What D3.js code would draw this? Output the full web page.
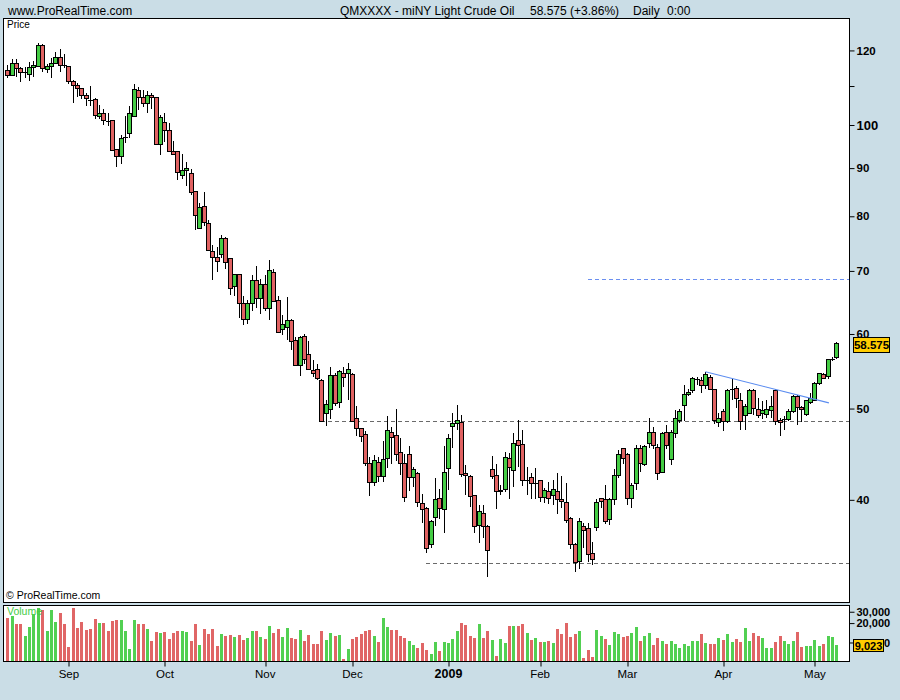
<!DOCTYPE html>
<html><head><meta charset="utf-8">
<script src="https://cdn.jsdelivr.net/npm/d3@7"></script>
<style>
html,body{margin:0;padding:0;background:#cadde6;}
svg{display:block;}
text{font-family:"Liberation Sans",Arial,sans-serif;}
</style></head><body>
<svg id="c" width="900" height="700"></svg>
<script>
// ---------- DATA ----------
const open = [114.3,112.9,116.3,114.9,113.7,113.2,115.2,115.5,121.5,114.6,
115.5,116.3,118.0,115.8,115.5,111.3,110.2,109.4,107.5,106.3,
106.5,102.2,102.9,101.0,101.2,94.2,92.6,96.9,97.9,102.2,
108.9,107.0,105.5,107.5,107.0,95.4,100.7,98.7,93.8,93.8,
88.4,89.5,88.9,85.0,77.7,82.0,78.6,73.4,72.3,72.9,
75.8,72.2,67.4,69.4,64.7,62.2,64.7,68.3,65.4,67.7,
63.9,69.8,65.1,60.6,61.0,62.0,59.1,55.6,59.7,57.1,
54.9,55.0,53.6,49.4,49.9,54.2,50.8,54.5,54.5,54.4,
48.8,47.6,46.9,43.7,41.7,43.8,42.3,44.3,47.1,46.8,
44.9,43.7,44.7,42.2,42.7,39.6,39.2,35.9,38.3,40.1,
39.1,43.2,47.9,48.2,48.3,42.7,42.4,40.4,37.6,38.7,
37.5,43.1,42.5,40.8,41.0,44.2,43.0,46.2,45.8,41.9,
42.2,41.6,41.9,40.2,40.8,40.4,40.8,40.0,39.7,38.2,
35.9,34.4,37.5,37.3,35.1,37.4,40.1,40.0,38.1,40.0,
42.5,45.3,44.7,40.1,41.6,45.4,43.6,45.9,47.2,45.5,
42.8,47.2,44.1,47.0,48.6,50.4,51.8,52.3,53.7,53.6,
52.9,54.0,52.4,48.3,49.7,48.5,52.3,52.5,51.0,49.2,
49.4,52.3,49.9,49.4,49.3,49.8,52.3,48.6,48.8,48.7,
49.7,51.5,50.1,49.3,50.8,51.0,53.2,54.4,54.1,56.3,
56.6];
const high = [115.9,117.4,117.4,115.3,115.3,116.6,117.0,122.1,121.9,116.1,
117.7,119.5,120.4,119.0,115.6,111.7,110.7,109.5,108.1,109.9,
106.7,104.9,103.9,102.9,101.3,94.2,97.5,102.2,104.8,110.6,
109.7,108.9,108.6,108.1,107.1,102.4,102.9,100.4,96.1,93.9,
93.1,91.3,89.7,85.1,82.6,84.8,79.3,74.6,74.3,76.4,
76.0,72.3,69.5,69.5,65.8,65.2,69.3,70.8,68.6,69.3,
71.9,70.4,65.8,62.8,65.6,62.3,59.6,59.7,60.0,59.0,
56.3,55.8,53.7,51.1,55.3,54.5,55.0,55.3,55.9,54.5,
50.3,47.7,47.3,44.4,44.6,44.4,46.2,49.1,47.8,50.0,
46.5,44.7,45.6,43.3,42.8,40.6,39.3,38.1,42.2,41.1,
45.6,47.0,49.4,50.4,49.2,43.6,42.5,40.5,39.5,39.5,
37.6,44.5,43.7,41.5,45.0,44.8,47.1,48.6,47.4,43.3,
42.7,43.2,42.0,41.2,41.8,42.0,42.7,42.4,41.7,38.4,
36.0,38.3,37.8,37.8,36.1,40.1,40.2,41.5,40.2,43.1,
45.2,45.4,44.8,41.7,45.7,45.7,45.7,48.8,47.8,45.9,
47.2,48.0,47.5,49.8,49.9,52.9,52.4,54.0,54.0,54.0,
54.7,54.3,52.5,49.4,49.9,52.4,53.8,52.8,51.9,50.6,
52.4,52.4,51.3,50.9,51.0,51.5,52.4,48.8,49.1,49.9,
51.7,51.7,50.3,51.1,51.9,53.3,54.6,54.5,56.5,56.7,
58.9];
const low = [112.3,112.7,112.5,111.2,112.1,111.4,112.5,115.2,113.8,113.6,
112.3,116.0,113.9,114.9,110.5,105.4,107.2,106.5,104.8,104.8,
101.6,101.4,100.0,99.7,93.8,90.3,91.0,95.8,96.9,102.0,
103.8,104.6,103.1,104.0,95.3,93.0,95.9,93.7,93.0,87.5,
87.6,86.1,84.2,77.4,77.5,78.1,73.5,68.5,69.9,72.2,
70.3,66.0,65.9,62.4,61.3,61.5,63.4,63.9,63.0,63.4,
62.1,64.9,60.1,59.8,59.1,57.7,55.5,54.2,55.8,54.9,
54.0,53.6,48.4,47.9,48.7,50.3,50.1,52.7,51.1,48.4,
46.8,46.1,43.4,40.4,41.4,41.8,41.8,43.2,43.7,44.0,
42.5,39.8,40.9,41.3,39.3,37.8,35.1,35.6,37.5,38.2,
36.9,41.0,45.4,47.5,42.3,40.5,39.3,36.9,36.0,36.4,
33.1,42.1,39.1,40.5,40.8,40.1,41.3,43.3,41.4,40.5,
40.1,40.1,39.8,39.7,39.6,39.5,38.6,39.2,37.8,35.5,
33.5,33.8,35.6,34.4,34.1,37.1,39.2,37.7,37.6,39.5,
42.2,43.7,39.5,39.2,41.0,42.8,43.4,45.4,45.3,42.0,
42.7,45.3,43.6,46.5,48.3,48.5,51.5,51.9,52.9,51.9,
52.5,52.3,48.2,47.8,47.3,48.3,51.0,50.1,47.4,47.4,
49.3,49.2,48.9,48.7,48.9,48.9,48.0,46.7,47.5,48.5,
49.4,48.0,48.4,49.1,50.6,50.9,53.0,53.7,53.8,56.2,
56.4];
const close = [112.9,116.3,114.9,113.8,113.8,115.2,115.8,121.5,114.9,115.5,
116.1,118.0,115.8,115.7,111.2,110.2,109.4,107.5,106.8,106.2,
102.4,102.8,101.2,100.9,93.9,92.6,96.8,97.0,102.9,109.1,
106.9,105.5,107.5,107.0,95.4,101.9,98.7,93.8,93.1,89.1,
89.5,89.9,84.8,80.2,81.8,78.8,73.6,72.3,71.7,75.8,
71.5,67.1,69.4,64.7,62.2,64.7,68.3,65.4,67.7,63.9,
70.1,65.0,60.2,61.4,62.0,58.9,55.6,59.5,56.4,55.0,
54.5,53.8,48.5,50.5,54.2,50.6,54.8,54.0,55.0,48.5,
47.6,46.7,43.7,41.7,44.0,42.4,44.1,47.4,46.6,44.7,
43.7,40.2,42.2,43.1,39.7,39.1,35.5,37.9,40.0,39.2,
42.8,46.5,48.2,48.6,42.6,42.5,40.3,37.5,38.9,37.5,
35.3,42.4,40.8,40.9,44.4,43.3,45.9,45.7,41.9,42.0,
41.6,41.7,40.2,40.9,40.1,41.0,40.0,39.8,38.0,35.9,
34.3,37.9,37.1,35.0,34.6,39.7,39.8,37.9,40.0,42.5,
44.7,44.2,40.1,41.4,45.4,43.7,45.6,47.2,45.7,42.7,
47.0,45.7,47.1,48.8,49.7,51.8,52.0,53.8,53.8,52.9,
54.4,52.4,48.6,48.8,48.5,52.3,52.4,51.3,48.5,50.2,
52.2,50.0,49.1,49.8,49.9,50.3,48.5,48.3,48.7,49.7,
51.5,50.1,49.9,51.0,51.2,53.2,54.5,53.8,56.4,56.4,
58.575];
const volume = [24000,25800,19400,19400,12600,17400,27700,34300,31900,15100,
31900,20800,28700,19400,8500,34300,16800,20800,15600,16200,
23200,20100,20100,15100,21600,22300,22300,15100,7900,22300,
19400,19400,16200,10600,14600,14000,14600,11300,14000,15100,
15100,14600,10600,19400,9200,16200,13600,16200,8800,13600,
12600,13100,12200,13100,10900,11700,15100,15100,12200,11300,
18000,14000,16200,12200,16800,11700,11300,15600,10600,13100,
9500,9500,15100,10900,14000,12600,13100,5500,7900,11300,
12200,13600,15100,15600,12600,10200,24000,17400,15600,15600,
12600,11700,10600,9200,8200,9800,7700,6600,10200,7400,
10200,9800,11300,15100,20100,18700,12600,11700,19400,11700,
15100,10900,6200,11300,9800,18000,18000,18000,19400,14000,
10900,11700,10200,10200,10600,9800,16200,13600,20100,12200,
13600,15100,5700,7700,6000,15600,12600,11300,9200,14600,
13600,12200,12600,14000,17400,10600,12600,14000,9200,11700,
10600,9500,10600,9500,8200,9500,8800,10600,10600,13600,
9800,9500,9500,11700,10900,13600,10200,11300,10200,16800,
10600,14000,12600,11700,8200,8200,10200,12600,10600,9500,
10600,14600,8500,8800,8800,10900,8800,9500,12600,12200,
9023];

const monthLabels = ["Sep","Oct","Nov","Dec","2009","Feb","Mar","Apr","May"];
const monthTickIndex = [14,36,59,79,101,122,142,164,185];
const priceTicks = [40,50,60,70,80,90,100,110,120];
const priceTickLabels = ["40","50","60","70","80","90","100","","120"];
const volumeTicks = [10000,20000,30000];
const levelPrice = [48.5,34.3,68.6];
const levelStart = [72,96,133];
const trendIndex = [160,188.3];
const trendPrice = [54.7,50.7];
const titleMain = "QMXXXX - miNY Light Crude Oil";
const titleQuote = "58.575 (+3.86%)";
const titlePeriod = "Daily";
const titleTime = "0:00";

// ---------- LAYOUT ----------
const GREEN = "#44cc44", RED = "#e06262";
const VGREEN = "#52d052", VRED = "#e06666";
const BG = "#cadde6";
const FONT = "'Liberation Sans', Arial, sans-serif";
const svg = d3.select("#c");
svg.append("rect").attr("width",900).attr("height",700).attr("fill",BG);

const N = close.length;
const x = d3.scaleLinear().domain([0, N-1]).range([7.3, 836.3]);
const y = d3.scaleLog().domain([31.16, 129.9]).range([602, 18]);
const yv = d3.scaleLog().domain([5165, 38160]).range([661, 605]);
const px = i => Math.round(x(i));

// header
svg.append("text").attr("x",8).attr("y",14.5).attr("font-size",12).text("www.ProRealTime.com");
const th = svg.append("text").attr("y",14.5).attr("font-size",12);
th.append("tspan").attr("x",340).text(titleMain);
th.append("tspan").attr("x",530).text(titleQuote);
th.append("tspan").attr("x",633).text(titlePeriod);
th.append("tspan").attr("x",667).text(titleTime);

// panels
svg.append("rect").attr("x",3.5).attr("y",18.5).attr("width",846).attr("height",584)
  .attr("fill","#fff").attr("stroke","#000");
svg.append("rect").attr("x",3.5).attr("y",605.5).attr("width",846).attr("height",56)
  .attr("fill","#fff").attr("stroke","#000");

svg.append("text").attr("x",7).attr("y",28).attr("font-size",10).text("Price");
svg.append("text").attr("x",6).attr("y",599).attr("font-size",10.5).text("\u00A9 ProRealTime.com");

// level lines
const lg = svg.append("g").attr("shape-rendering","crispEdges");
lg.selectAll("line").data(d3.range(levelPrice.length)).join("line")
  .attr("x1", k => x(levelStart[k])).attr("x2", 849)
  .attr("y1", k => Math.round(y(levelPrice[k]))+0.5).attr("y2", k => Math.round(y(levelPrice[k]))+0.5)
  .attr("stroke", k => k===2 ? "#6b8ff0" : "#6a6a6a")
  .attr("stroke-dasharray","4,3");

// candles
const idx = d3.range(N);
const cg = svg.append("g").attr("shape-rendering","crispEdges");
cg.selectAll("line.wick").data(idx).join("line").attr("class","wick")
  .attr("x1", i => px(i)+0.5).attr("x2", i => px(i)+0.5)
  .attr("y1", i => y(high[i])).attr("y2", i => y(low[i]))
  .attr("stroke","#000");
const isDoji = i => Math.abs(y(open[i]) - y(close[i])) < 1;
cg.selectAll("rect.body").data(idx.filter(i => !isDoji(i))).join("rect").attr("class","body")
  .attr("x", i => px(i)-1.5).attr("width",4)
  .attr("y", i => y(Math.max(open[i],close[i])))
  .attr("height", i => Math.abs(y(open[i]) - y(close[i])))
  .attr("fill", i => close[i] >= open[i] ? GREEN : RED)
  .attr("stroke","#000");
cg.selectAll("line.doji").data(idx.filter(isDoji)).join("line").attr("class","doji")
  .attr("x1", i => px(i)-2).attr("x2", i => px(i)+3)
  .attr("y1", i => Math.round(y(close[i]))+0.5).attr("y2", i => Math.round(y(close[i]))+0.5)
  .attr("stroke","#000");

// trend line
svg.append("line")
  .attr("x1", x(trendIndex[0])).attr("y1", y(trendPrice[0]))
  .attr("x2", x(trendIndex[1])).attr("y2", y(trendPrice[1]))
  .attr("stroke","#5b8cf0").attr("stroke-width",1.1);

// volume bars
const vg = svg.append("g").attr("shape-rendering","crispEdges");
vg.selectAll("rect").data(idx).join("rect")
  .attr("x", i => px(i)-1).attr("width",3)
  .attr("y", i => yv(volume[i])).attr("height", i => 661 - yv(volume[i]))
  .attr("fill", i => (i === 0 ? close[i] >= open[i] : close[i] >= close[i-1]) ? VGREEN : VRED);
svg.append("text").attr("x",7).attr("y",615).attr("font-size",10.5).attr("fill","#44cc44").text("Volume");

// price axis
const pa = svg.append("g").attr("transform","translate(849.5,0)")
  .call(d3.axisRight(y).tickValues(priceTicks).tickSize(5).tickPadding(2)
    .tickFormat((d,k) => priceTickLabels[k]));
pa.select(".domain").remove();
pa.selectAll("line").attr("stroke","#000");
pa.selectAll("text").attr("font-family",FONT).attr("font-size",11.5).attr("font-weight","bold").attr("fill","#000");
pa.selectAll("text").filter(d => d === 100).attr("font-size",13);

// volume axis
const va = svg.append("g").attr("transform","translate(849.5,0)")
  .call(d3.axisRight(yv).tickValues(volumeTicks).tickSize(5).tickPadding(2).tickFormat(d3.format(",")));
va.select(".domain").remove();
va.selectAll("line").attr("stroke","#000");
va.selectAll("text").attr("font-family",FONT).attr("font-size",11).attr("font-weight","bold").attr("fill","#000");

// time axis
const ta = svg.append("g").attr("transform","translate(0,661.5)")
  .call(d3.axisBottom(x).tickValues(monthTickIndex).tickSize(5).tickPadding(3)
    .tickFormat((d,k) => monthLabels[k]));
ta.select(".domain").remove();
ta.selectAll("line").attr("stroke","#000").attr("transform", d => `translate(${px(d)+0.5 - x(d)},0)`);
ta.selectAll("text").attr("font-family",FONT).attr("font-size",11.5).attr("fill","#000");
ta.selectAll("text").filter((d,k) => monthLabels[k] === "2009").attr("font-weight","bold").attr("font-size",12.5);

// last value tags
const lastP = close[N-1], lastV = volume[N-1];
const yp = y(lastP);
svg.append("rect").attr("x",853.5).attr("y",Math.round(yp)-6.5).attr("width",36).attr("height",15)
  .attr("fill","#ffcc00").attr("stroke","#000");
svg.append("text").attr("x",871.5).attr("y",Math.round(yp)+5).attr("text-anchor","middle")
  .attr("font-size",11.5).attr("font-weight","bold").text(d3.format(".3f")(lastP));
const yvl = yv(lastV);
svg.append("rect").attr("x",853.5).attr("y",Math.round(yvl)-5.5).attr("width",30).attr("height",12)
  .attr("fill","#ffcc00").attr("stroke","#000");
svg.append("text").attr("x",868.5).attr("y",Math.round(yvl)+4.5).attr("text-anchor","middle")
  .attr("font-size",11).attr("font-weight","bold").text(d3.format(",")(lastV));
</script>
</body></html>
